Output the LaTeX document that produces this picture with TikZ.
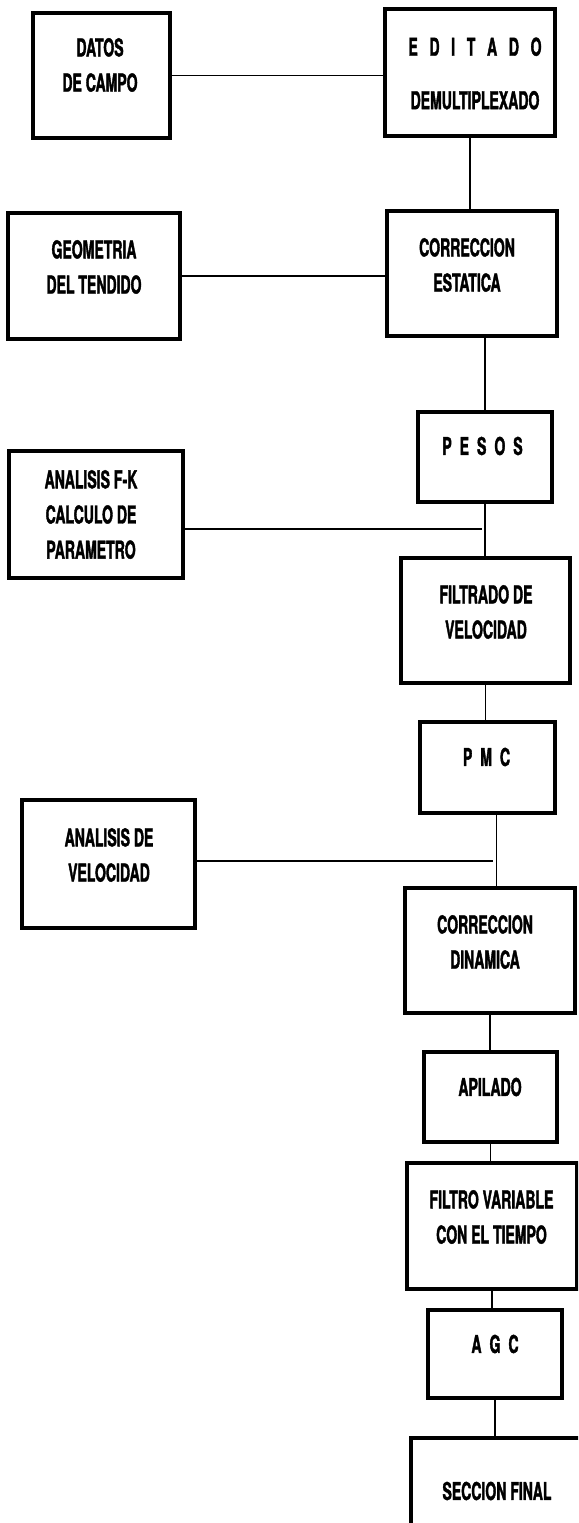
\documentclass[tikz,border=0pt]{standalone}
\usepackage{fontspec}
\newfontfamily\plotfont{TeX Gyre Heros}[FakeStretch=0.57, BoldFeatures={FakeBold=1.5}]
\newcommand{\pxu}{0.03cm}
\newcommand{\lsp}{\hspace{0.24cm}}
\newcommand{\wlsp}{\hspace{0.35cm}}

\begin{document}
\begin{tikzpicture}[x=\pxu, y=-\pxu,
		box/.style 2 args={draw, line width=3pt, inner sep=0pt, minimum width=#1*\pxu, minimum height=#2*\pxu},
		txt/.style={font=\plotfont\bfseries\fontsize{21}{30}\selectfont, align=center, inner sep=0pt},
		wire/.style={line width=1pt}]
		\clip ( 0, 0 ) rectangle ( 578, 1523 );
		% left column: inputs
		\node [box={137}{125}] (datos) at ( 101.5, 75.5 ) {};
		\node [box={172}{126}] (geometria) at ( 94, 276 ) {};
		\node [box={174}{127}] (fk) at ( 96, 514.5 ) {};
		\node [box={173}{128}] (velocidad) at ( 108.5, 864 ) {};
		\node [txt] (datos-t) at ( 100, 65 ) {DATOS\\DE CAMPO};
		\node [txt] (geometria-t) at ( 94, 267 ) {GEOMETRIA\\DEL TENDIDO};
		\node [txt] (fk-t) at ( 91, 514.5 ) {ANALISIS F-K\\CALCULO DE\\PARAMETRO};
		\node [txt] (velocidad-t) at ( 109, 855 ) {ANALISIS DE\\VELOCIDAD};
		% right column: processing chain
		\node [box={170}{127}] (editado) at ( 470, 72.5 ) {};
		\node [box={170}{125}] (estatica) at ( 472, 273.5 ) {};
		\node [box={134}{90}] (pesos) at ( 485, 457 ) {};
		\node [box={169}{125}] (filtrado) at ( 485.5, 620.5 ) {};
		\node [box={135}{91}] (pmc) at ( 487.5, 767.5 ) {};
		\node [box={170}{125}] (dinamica) at ( 490, 950.5 ) {};
		\node [box={133}{90}] (apilado) at ( 490.5, 1097 ) {};
		\node [box={170}{126}] (filtro) at ( 492, 1226 ) {};
		\node [box={134}{88}] (agc) at ( 495, 1354 ) {};
		\node [box={189}{122}] (seccion) at ( 505.5, 1499 ) {};
		\node [txt] (editado-t) at ( 475, 73.5 ) {E\wlsp D\wlsp I\wlsp T\wlsp A\wlsp D\wlsp O\\[0.55cm]DEMULTIPLEXADO};
		\node [txt] (estatica-t) at ( 467, 265 ) {CORRECCION\\ESTATICA};
		\node [txt] (pesos-t) at ( 482.5, 446 ) {P\lsp E\lsp S\lsp O\lsp S};
		\node [txt] (filtrado-t) at ( 486, 612 ) {FILTRADO DE\\VELOCIDAD};
		\node [txt] (pmc-t) at ( 486.5, 757 ) {P\lsp M\lsp C};
		\node [txt] (dinamica-t) at ( 485, 942 ) {CORRECCION\\DINAMICA};
		\node [txt] (apilado-t) at ( 490, 1087 ) {APILADO};
		\node [txt] (filtro-t) at ( 491.5, 1217 ) {FILTRO VARIABLE\\CON EL TIEMPO};
		\node [txt] (agc-t) at ( 495, 1344 ) {A\lsp G\lsp C};
		\node [txt] (seccion-t) at ( 497, 1491 ) {SECCION FINAL};
		% joints on the chain
		\coordinate (fkjoin) at ( 482, 529 );
		\coordinate (veljoin) at ( 493, 861 );
		% connectors
		\draw [wire] (datos.east) -- (datos.east -| editado.west);
		\draw [wire] (geometria.east) -- (geometria.east -| estatica.west);
		\draw [wire] (fk.east |- fkjoin) -- (fkjoin);
		\draw [wire] (velocidad.east |- veljoin) -- (veljoin);
		\draw [wire] (editado.south) -- (editado.south |- estatica.north);
		\draw [wire] (pesos.north) -- (pesos.north |- estatica.south);
		\draw [wire] (pesos.south) -- (pesos.south |- filtrado.north);
		\draw [wire] (filtrado.south) -- (filtrado.south |- pmc.north);
		\draw [wire] ([xshift=0.26cm]pmc.south) -- ([xshift=0.26cm]pmc.south |- dinamica.north);
		\draw [wire] (dinamica.south) -- (dinamica.south |- apilado.north);
		\draw [wire] (apilado.south) -- (apilado.south |- filtro.north);
		\draw [wire] (filtro.south) -- (filtro.south |- agc.north);
		\draw [wire] (agc.south) -- (agc.south |- seccion.north);
\end{tikzpicture}
\end{document}
